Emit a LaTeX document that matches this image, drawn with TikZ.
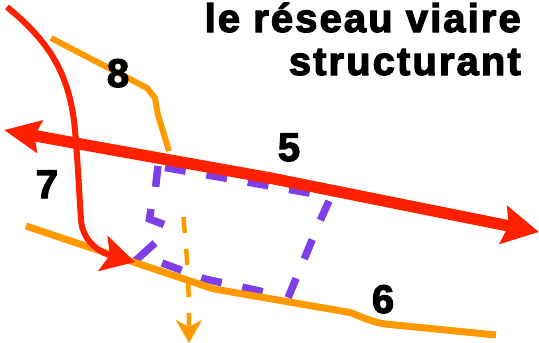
\documentclass[tikz,border=0pt]{standalone}
\usepackage{fontspec}
\setmainfont{Liberation Sans}[BoldFeatures={FakeBold=3}]
\newfontfamily\titlefont{Liberation Sans}[BoldFeatures={FakeBold=3,LetterSpace=5.2}]
\usetikzlibrary{arrows.meta}
\definecolor{rdc}{HTML}{FF2000}
\definecolor{orc}{HTML}{FF9900}
\definecolor{puc}{HTML}{7F3FE8}
\tikzset{
 numlabel/.style={font=\fontsize{40}{40}\selectfont\bfseries,text=black,inner sep=0pt,anchor=base},
 titlelabel/.style={font=\titlefont\fontsize{40}{43}\selectfont\bfseries,text=black,inner sep=0pt,anchor=base east},
 road/.style={draw=orc,line width=7pt},
 purpledash/.style={draw=puc,line width=7.5pt,dash pattern=on 21pt off 21pt},
 purplesolid/.style={draw=puc,line width=7.5pt},
 accessdash/.style={draw=orc,line width=4.5pt,dash pattern=on 16pt off 16pt,
   -{Stealth[length=23pt,width=26pt,inset=7pt,fill=orc]}},
 mainarrow/.style={draw=rdc,line width=11.5pt,{Stealth[length=36pt,width=32pt,inset=5pt]}-{Stealth[length=36pt,width=38pt,inset=5pt]}},
 thinarrow/.style={draw=rdc,line width=6pt,-{Stealth[length=33pt,width=36pt,inset=7pt]}},
}
\begin{document}
\begin{tikzpicture}[x=1pt,y=-1pt]
\useasboundingbox (0,0) rectangle (539,343);
\coordinate (mainL) at (4,130);
\coordinate (mainR) at (539,232);
\coordinate (thinS) at (7,7);
\coordinate (thinE) at (135,262);
\coordinate (rdA) at (26,226);
\coordinate (rdB) at (496,335);
\coordinate (rcA) at (51,38);
\coordinate (rcB) at (169,151);
\coordinate (accS) at (183.5,217);
\coordinate (accE) at (189,343);
% dashed purple block
\draw[purpledash] (165,167.5) -- (312,193.5);
\draw[purpledash] (329,201) -- (320,221) -- (288,298);
\draw[purpledash] (162,263) -- (205,279) -- (264,292);
\draw[purpledash] (158,166) -- (155.5,188);
\draw[purplesolid] (151,209) -- (149.5,219) -- (164,224.5);
\draw[purplesolid] (155,243) -- (135,261);
% access
\draw[accessdash] (accS) .. controls (186,250) and (189,270) .. (accE);
% roads
\draw[road] (rdA) -- (205,286) .. controls (208,287) and (210,288) .. (214,289) -- (350,312.5) .. controls (362,317) and (372,322) .. (385,324) -- (rdB);
\draw[road,line width=6pt] (rcA) -- (147,88) -- (155,98) -- (158,115) -- (rcB);
% red arrows
\draw[mainarrow] (mainL) -- (80,144) -- (270,178) -- (mainR);
\draw[thinarrow] (thinS) .. controls (50,42) and (70,75) .. (75,130) .. controls (78,165) and (79,190) .. (81,220) .. controls (83,245) and (105,254) .. (thinE);
% labels
\node[numlabel] (n8) at (118,87) {8};
\node[numlabel] (n5) at (289,161) {5};
\node[numlabel] (n7) at (47,198) {7};
\node[numlabel] (n6) at (383,313) {6};
\node[titlelabel] (t1) at (521,32) {le réseau viaire};
\node[titlelabel] (t2) at (521,75) {structurant};
\end{tikzpicture}
\end{document}
